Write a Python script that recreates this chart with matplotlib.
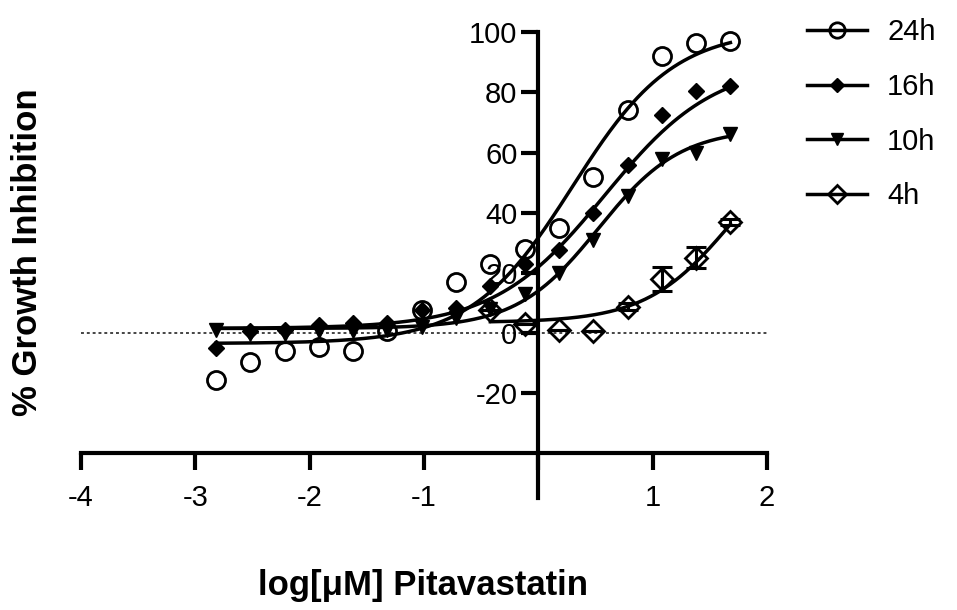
import numpy as np
import matplotlib
matplotlib.use('Agg')
import matplotlib.pyplot as plt
from matplotlib.lines import Line2D

plt.rcParams['font.family'] = ['Liberation Sans', 'DejaVu Sans']
plt.rcParams['axes.unicode_minus'] = False

# log[uM] concentrations (two-fold dilutions)
log_conc = [-2.82, -2.52, -2.22, -1.92, -1.62, -1.32, -1.02, -0.72,
            -0.42, -0.12, 0.18, 0.48, 0.78, 1.08, 1.38, 1.68]

# % growth inhibition (nan = no point shown)
inh_24h = [-15.5, -9.5, -6, -4.5, -6, 0.5, 7.5, 17, 23, 28, 35, 52, 74, 92, 96.5, 97]
inh_16h = [-5, 0.5, 1, 2.7, 3.3, 3.3, 7.5, 8.4, 15.5, 23, 27.5, 40, 56, 72.5, 80.5, 82]
inh_10h = [1, -0.5, -0.5, 0.5, 0.5, 1, 2, 5, 8, 13, 20, 31, 45.5, 58, 60, 66]
inh_4h = [np.nan] * 8 + [7.5, 3, 1, 0.5, 8.8, 18, 25, 37]
err_4h = [0] * 12 + [1, 4, 3.5, 1]

# fitted sigmoid parameters: bottom, top, logEC50, hill slope
fit_24h = [-3.5, 101, 0.30, 0.98]
fit_16h = [1.5, 90, 0.58, 0.90]
fit_10h = [1.5, 68, 0.525, 1.21]
fit_4h = [3.5, 70, 1.694, 1.16]

labels = ['24h', '16h', '10h', '4h']


def sigmoid(x, p):
    b, t, c, h = p
    return b + (t - b) / (1 + 10 ** ((c - x) * h))


fig = plt.figure(figsize=(9.57, 6.10), dpi=100)
ax = fig.add_axes([81 / 957, 0.183, 686 / 957, 0.957 - 0.183])

ax.set_xlim(-4, 2)
ax.set_ylim(-55, 102)

lw = 2.5

ax.axhline(0, xmin=0, xmax=1, color='#444444', lw=1.4, ls=(0, (1.5, 1.5)), zorder=1)

series = [
    (inh_24h, fit_24h, dict(marker='o', ms=13, mfc='none', mec='black', mew=2.0)),
    (inh_16h, fit_16h, dict(marker='D', ms=8, mfc='black', mec='black', mew=1)),
    (inh_10h, fit_10h, dict(marker='v', ms=10, mfc='black', mec='black', mew=1)),
    (inh_4h, fit_4h, dict(marker='D', ms=11, mfc='none', mec='black', mew=2.0)),
]

for vals, fit, mk in series:
    xs = [x for x, v in zip(log_conc, vals) if not np.isnan(v)]
    xx = np.linspace(xs[0], xs[-1], 300)
    ax.plot(xx, sigmoid(xx, fit), color='black', lw=lw, zorder=3, clip_on=False)
    ax.plot(log_conc, vals, ls='none', zorder=4, clip_on=False, **mk)

ax.errorbar(log_conc, inh_4h, yerr=err_4h, fmt='none', ecolor='black',
            elinewidth=2.2, capsize=7, capthick=2.2, zorder=4)

# axes in GraphPad style
for s in ['top', 'right']:
    ax.spines[s].set_visible(False)
ax.spines['left'].set_position(('data', 0))
ax.spines['bottom'].set_position(('data', -40))
ax.spines['left'].set_bounds(-55, 100)
ax.spines['bottom'].set_bounds(-4, 2)
ax.spines['left'].set_linewidth(3)
ax.spines['bottom'].set_linewidth(3)

ax.set_xticks([-4, -3, -2, -1, 0, 1, 2])
ax.set_xticklabels(['-4', '-3', '-2', '-1', '', '1', '2'])
ax.set_yticks([-20, 0, 20, 40, 60, 80, 100])
ax.tick_params(axis='both', width=3, length=12, labelsize=21, direction='out')
ax.tick_params(axis='x', pad=10)
ax.tick_params(axis='y', pad=3)

fig.text(28 / 957, 1 - 252 / 610, '% Growth Inhibition', rotation=90,
         ha='center', va='center', fontsize=25, fontweight='bold')
fig.text(423 / 957, 1 - 586 / 610, 'log[\u03bcM] Pitavastatin',
         ha='center', va='center', fontsize=25, fontweight='bold')

handles = []
for vals, fit, mk in series:
    m = dict(mk)
    m['ms'] = m['ms'] * 0.85
    handles.append(Line2D([], [], color='black', lw=lw, **m))
ax.legend(handles, labels, loc='upper left', bbox_to_anchor=(807 / 957, 1 - 18 / 610),
          bbox_transform=fig.transFigure, frameon=False, fontsize=21,
          borderaxespad=0, borderpad=0,
          handlelength=2.05, handletextpad=0.7, labelspacing=0.92)

fig.savefig('out.png', dpi=100)
